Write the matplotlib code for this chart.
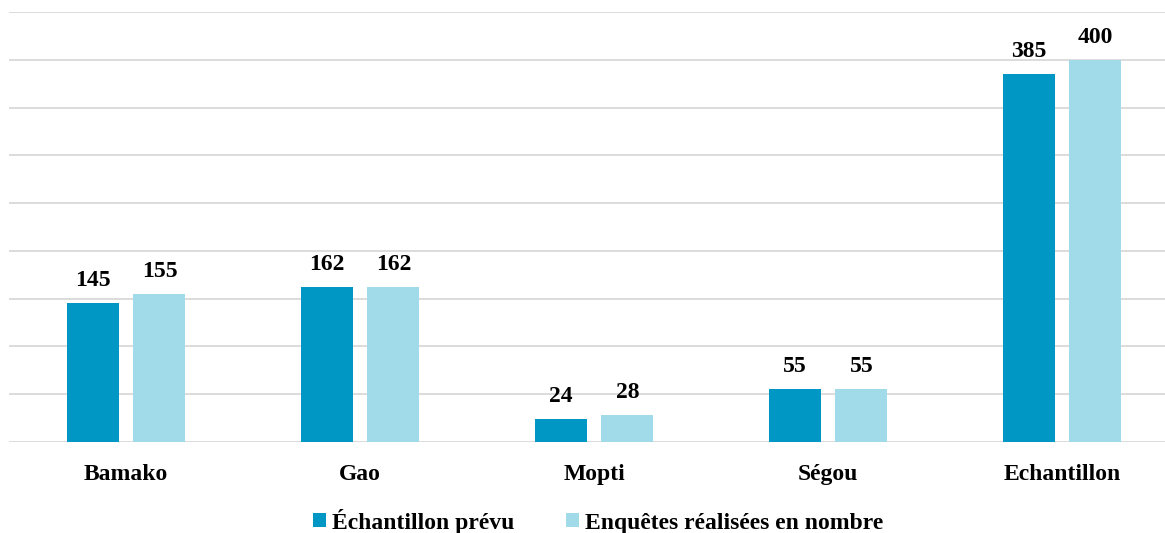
import numpy as np
import matplotlib
matplotlib.use('Agg')
import matplotlib.pyplot as plt

# ── Data ─────────────────────────────────────────────────────────────
categories = ['Bamako', 'Gao', 'Mopti', 'Ségou', 'Echantillon']
prevu = [145, 162, 24, 55, 385]
realise = [155, 162, 28, 55, 400]
series_names = ['Échantillon prévu', 'Enquêtes réalisées en nombre']

c_dark = '#0097C4'
c_light = '#A1DAE8'

plt.rcParams['font.family'] = ['Liberation Serif', 'DejaVu Serif']

W, H = 1165, 533
fig = plt.figure(figsize=(W / 100, H / 100), dpi=100)
# axes in pixel terms: left 9, right 1179 (clipped), top 12, bottom 442
ax = fig.add_axes([9 / W, 1 - 442 / H, (1179 - 9) / W, (442 - 12) / H])

x = np.arange(len(categories))
bw = 0.222
off = 0.143
b1 = ax.bar(x - off, prevu, bw, color=c_dark, label=series_names[0], zorder=3)
b2 = ax.bar(x + off, realise, bw, color=c_light, label=series_names[1], zorder=3)

for bars, vals in ((b1, prevu), (b2, realise)):
    for r, v in zip(bars, vals):
        ax.text(r.get_x() + r.get_width() / 2, v + 18, str(v),
                ha='center', va='baseline', fontsize=17, fontweight='bold')

ax.set_xlim(-0.5, 4.5)
ax.set_ylim(0, 450)
ax.set_yticks(np.arange(0, 451, 50))
ax.yaxis.grid(True, color='#d9d9d9', lw=1.3, zorder=0)
ax.tick_params(axis='y', left=False, labelleft=False)
ax.tick_params(axis='x', bottom=False, pad=12)
ax.set_xticks(x)
ax.set_xticklabels(categories, fontsize=17, fontweight='bold')
for s in ax.spines.values():
    s.set_visible(False)

fig.legend(handles=[b1, b2], labels=series_names, loc='center',
           bbox_to_anchor=(598 / W, 1 - 521 / H), ncol=2, frameon=False,
           prop={'size': 17, 'weight': 'bold'}, handlelength=0.55,
           handleheight=0.55, handletextpad=0.25, columnspacing=2.2)

fig.savefig('out.png', dpi=100)
